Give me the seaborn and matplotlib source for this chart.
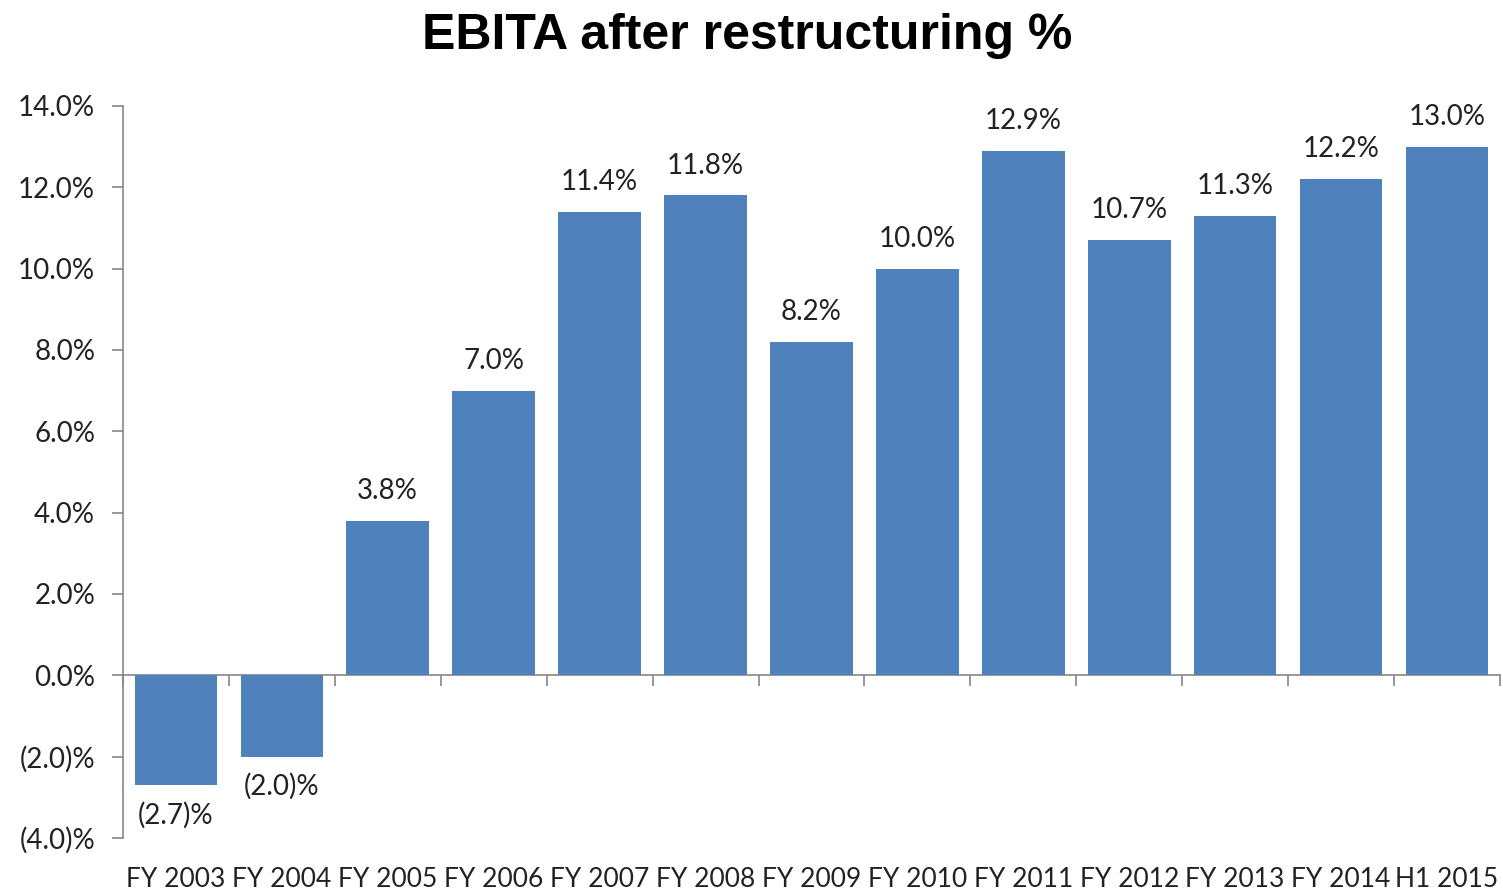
import matplotlib
matplotlib.use("Agg")
import matplotlib.pyplot as plt
import seaborn as sns
import pandas as pd

# Chart data
periods = ["FY 2003", "FY 2004", "FY 2005", "FY 2006", "FY 2007", "FY 2008", "FY 2009",
           "FY 2010", "FY 2011", "FY 2012", "FY 2013", "FY 2014", "H1 2015"]
ebita_pct = [-2.7, -2.0, 3.8, 7.0, 11.4, 11.8, 8.2, 10.0, 12.9, 10.7, 11.3, 12.2, 13.0]
y_ticks = [-4, -2, 0, 2, 4, 6, 8, 10, 12, 14]


def fmt_pct(v):
    # accounting style: negatives in brackets
    if v < 0:
        return f"({abs(v):.1f})%"
    return f"{v:.1f}%"


df = pd.DataFrame({"period": periods, "ebita": ebita_pct})

sns.set_style("white")
plt.rcParams["font.family"] = ["Lato", "DejaVu Sans"]

fig = plt.figure(figsize=(15.03, 8.90), dpi=100)
ax = fig.add_axes([0.0818, 0.0584, 0.9162, 0.8226])

sns.barplot(data=df, x="period", y="ebita", color="#4F81BD", saturation=1,
            width=0.78, linewidth=0, ax=ax)

ax.set_xlim(-0.5, len(periods) - 0.5)
ax.set_ylim(min(y_ticks), max(y_ticks))
ax.set_yticks(y_ticks)
ax.set_yticklabels([fmt_pct(t) for t in y_ticks], fontsize=20, color="#222222")
ax.tick_params(axis="y", direction="out", length=8, width=1.2, color="#868686",
               left=True, pad=12)
ax.set_xlabel("")
ax.set_ylabel("")

# category labels at the bottom of the plot, no tick marks there
ax.tick_params(axis="x", length=0, labelsize=19, labelcolor="#222222", pad=21)

for side in ["top", "right", "bottom"]:
    ax.spines[side].set_visible(False)
ax.spines["left"].set_color("#868686")
ax.spines["left"].set_linewidth(1.2)

# zero line with category separator ticks
zero_frac = (0 - min(y_ticks)) / (max(y_ticks) - min(y_ticks))
sec = ax.secondary_xaxis(zero_frac)
sec.set_xticks([i - 0.5 for i in range(len(periods) + 1)])
sec.tick_params(axis="x", direction="out", length=8, width=1.2, color="#868686",
                labelbottom=False, labeltop=False)
sec.spines["bottom"].set_color("#868686")
sec.spines["bottom"].set_linewidth(1.2)
sec.set_xlabel("")

ax.bar_label(ax.containers[0], labels=[fmt_pct(v) for v in ebita_pct],
             padding=12, fontsize=20, color="#222222")

fig.suptitle("EBITA after restructuring %", fontsize=36, fontweight="bold",
             family="Liberation Sans", color="black", x=0.497, y=1 - 49 / 890,
             va="baseline")

fig.savefig("out.png", dpi=100, facecolor="white")
